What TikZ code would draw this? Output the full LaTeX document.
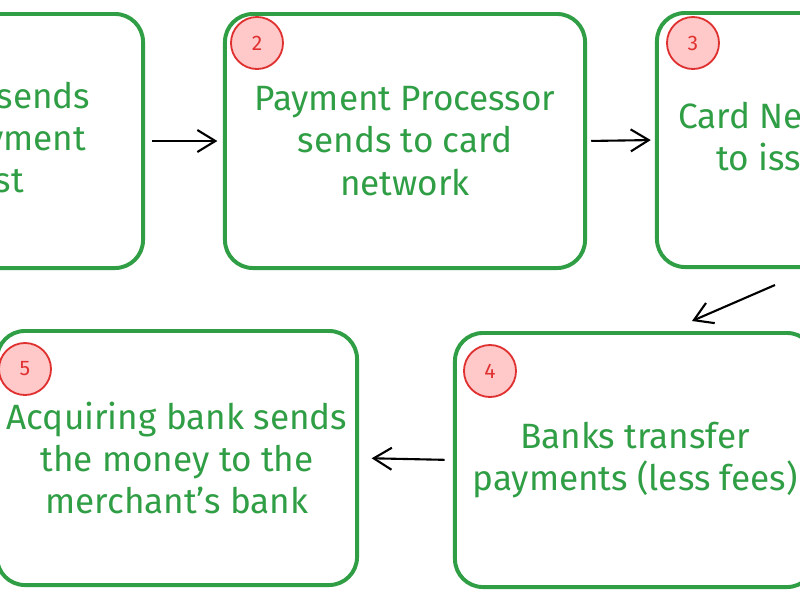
\documentclass[tikz,border=0pt]{standalone}
\usepackage{fontspec}
\setmainfont{Fira Sans}
\usetikzlibrary{arrows.meta,calc}
\definecolor{stepgreen}{HTML}{2F9E44}
\definecolor{badgered}{HTML}{E03131}
\definecolor{badgepink}{HTML}{FFC9C9}
\begin{document}
\begin{tikzpicture}[x=0.025cm, y=-0.025cm,
  card/.style = {draw=stepgreen, line width=2.8pt, rounded corners=0.7cm, minimum width=9cm, minimum height=6.35cm, align=center, text=stepgreen, font=\fontsize{25}{30}\selectfont},
  badge/.style = {circle, draw=badgered, fill=badgepink, line width=1.3pt, minimum size=1.3cm, inner sep=0pt, text=badgered, font=\fontsize{15}{15}\selectfont},
  flow/.style = {-{Straight Barb[length=0.45cm, width=0.55cm]}, line width=1.5pt}]
\useasboundingbox (0,0) rectangle (800,600);
\clip (0,0) rectangle (800,600);
\fill[white] (0,0) rectangle (800,600);
% top row
\node[card] (request) at (-37,141) {Customer sends\\a card payment\\request};
\node[card] (processor) at (405,141) {Payment Processor\\sends to card\\network};
\node[card] (network) at (837,140) {Card Network sends\\to issuing bank};
% bottom row
\node[card] (transfer) at (635,460) {Banks transfer\\payments (less fees)};
\node[card] (acquirer) at (177,458) {Acquiring bank sends\\the money to the\\merchant's bank};
% step numbers
\node[badge] (n2) at ($(processor.north west)+(34,31)$) {2};
\node[badge] (n3) at ($(network.north west)+(38,32)$) {3};
\node[badge] (n4) at ($(transfer.north west)+(37,40)$) {4};
\node[badge] (n5) at ($(acquirer.north west)+(30,40)$) {5};
% connectors
\coordinate (out3) at ($(network.south west)+(120,16)$);
\coordinate (in4) at ($(transfer.north)+(57,-10)$);
\draw[flow, shorten <=5pt, shorten >=4pt] (request.east) -- (processor.west);
\draw[flow, shorten <=3pt, shorten >=3pt] (processor.east) -- (network.west);
\draw[flow] (out3) -- (in4);
\draw[flow, shorten <=6pt, shorten >=9pt] (transfer.west) -- (acquirer.east);
\end{tikzpicture}
\end{document}
